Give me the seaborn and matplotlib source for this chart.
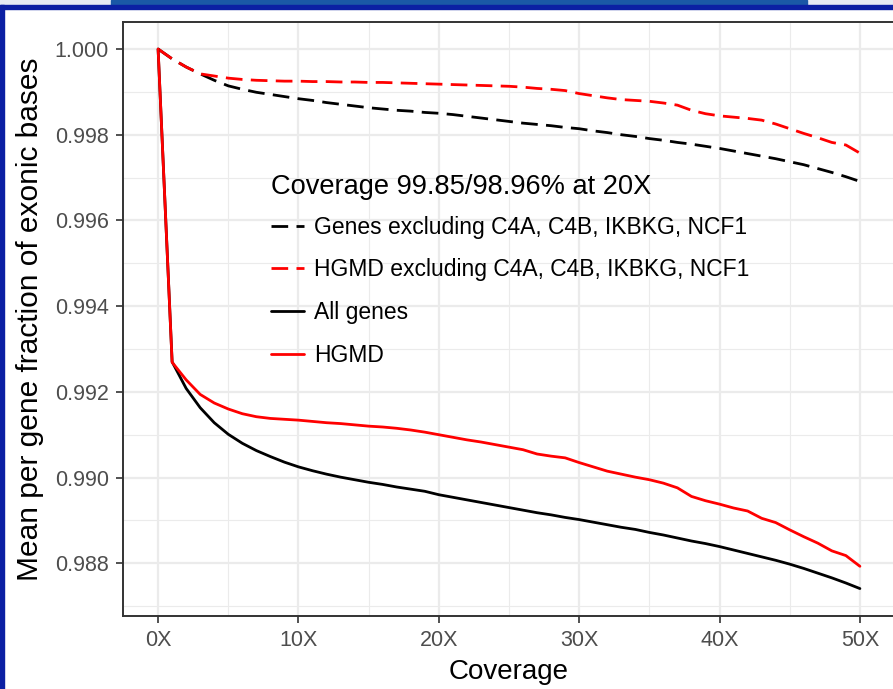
import numpy as np
import pandas as pd
import matplotlib
matplotlib.use("Agg")
import matplotlib.pyplot as plt
from matplotlib.patches import Rectangle
from matplotlib.ticker import MultipleLocator, FuncFormatter
import seaborn as sns

# coverage depth 0X..50X
coverage = list(range(0, 51))

genes_excl = [1.000, 0.99977, 0.99958, 0.99942, 0.99927, 0.99914, 0.99906, 0.99899, 0.99894, 0.99889,
              0.99884, 0.99880, 0.99875, 0.99871, 0.99867, 0.99863, 0.99860, 0.99857, 0.99855, 0.99852,
              0.99850, 0.99847, 0.99843, 0.99839, 0.99835, 0.99831, 0.99827, 0.99824, 0.99821, 0.99817,
              0.99814, 0.99809, 0.99805, 0.99800, 0.99796, 0.99791, 0.99787, 0.99782, 0.99778, 0.99773,
              0.99768, 0.99762, 0.99756, 0.99750, 0.99744, 0.99737, 0.99730, 0.99721, 0.99712, 0.99702,
              0.99691]

hgmd_excl = [1.000, 0.99977, 0.99958, 0.99942, 0.99937, 0.99932, 0.99929, 0.99927, 0.99926, 0.99925,
             0.99925, 0.99924, 0.99924, 0.99923, 0.99923, 0.99922, 0.99922, 0.99921, 0.99920, 0.99919,
             0.99918, 0.99917, 0.99916, 0.99915, 0.99914, 0.99913, 0.99911, 0.99908, 0.99906, 0.99903,
             0.99896, 0.99891, 0.99886, 0.99882, 0.99880, 0.99878, 0.99874, 0.99869, 0.99857, 0.99849,
             0.99844, 0.99841, 0.99838, 0.99834, 0.99825, 0.99814, 0.99803, 0.99793, 0.99782, 0.99776,
             0.99757]

all_genes = [1.000, 0.99270, 0.99208, 0.99163, 0.99128, 0.99101, 0.99080, 0.99063, 0.99049, 0.99036,
             0.99025, 0.99016, 0.99008, 0.99001, 0.98995, 0.98989, 0.98984, 0.98978, 0.98973, 0.98968,
             0.98960, 0.98954, 0.98948, 0.98942, 0.98936, 0.98930, 0.98924, 0.98918, 0.98913, 0.98907,
             0.98902, 0.98896, 0.98890, 0.98884, 0.98879, 0.98872, 0.98866, 0.98859, 0.98852, 0.98846,
             0.98839, 0.98831, 0.98823, 0.98815, 0.98807, 0.98798, 0.98788, 0.98777, 0.98766, 0.98754,
             0.98741]

hgmd = [1.000, 0.99269, 0.99228, 0.99194, 0.99174, 0.99160, 0.99149, 0.99142, 0.99138, 0.99136,
        0.99134, 0.99131, 0.99128, 0.99126, 0.99123, 0.99120, 0.99118, 0.99115, 0.99111, 0.99106,
        0.99100, 0.99094, 0.99088, 0.99083, 0.99077, 0.99071, 0.99065, 0.99055, 0.99050, 0.99046,
        0.99035, 0.99025, 0.99015, 0.99008, 0.99001, 0.98995, 0.98987, 0.98976, 0.98956, 0.98946,
        0.98938, 0.98929, 0.98922, 0.98905, 0.98895, 0.98878, 0.98862, 0.98847, 0.98829, 0.98818,
        0.98793]

series_names = ["Genes excluding C4A, C4B, IKBKG, NCF1",
                "HGMD excluding C4A, C4B, IKBKG, NCF1",
                "All genes",
                "HGMD"]
series_colors = ["black", "red", "black", "red"]
legend_title = "Coverage 99.85/98.96% at 20X"

# long format table for seaborn
df = pd.concat([
    pd.DataFrame({"coverage": coverage, "fraction": vals, "series": name})
    for name, vals in zip(series_names, [genes_excl, hgmd_excl, all_genes, hgmd])
])

sns.set_theme(style="whitegrid")
plt.rcParams["font.family"] = ["Liberation Sans", "DejaVu Sans"]

W, H = 893, 689
fig = plt.figure(figsize=(W / 100, H / 100), dpi=100)
ax = fig.add_axes([123 / W, 1 - 616 / H, (895 - 123) / W, (616 - 22) / H])

sns.lineplot(
    data=df, x="coverage", y="fraction",
    hue="series", style="series",
    hue_order=series_names, style_order=series_names,
    palette=dict(zip(series_names, series_colors)),
    dashes={series_names[0]: (6, 3), series_names[1]: (6, 3),
            series_names[2]: "", series_names[3]: ""},
    linewidth=2.0, ax=ax,
)

ax.set_xlim(-2.5, 52.5)
ax.set_ylim(0.98677, 1.00063)
ax.xaxis.set_major_locator(MultipleLocator(10))
ax.xaxis.set_minor_locator(MultipleLocator(5))
ax.yaxis.set_major_locator(MultipleLocator(0.002))
ax.yaxis.set_minor_locator(MultipleLocator(0.001))
ax.xaxis.set_major_formatter(FuncFormatter(lambda v, p: f"{int(round(v))}X"))
ax.yaxis.set_major_formatter(FuncFormatter(lambda v, p: f"{v:.3f}"))

ax.set_facecolor("white")
ax.grid(which="major", color="#ebebeb", linewidth=1.6)
ax.grid(which="minor", color="#ebebeb", linewidth=0.8)
ax.set_axisbelow(True)
for s in ax.spines.values():
    s.set_color("#333333")
    s.set_linewidth(1.4)

ax.tick_params(axis="both", which="major", length=5, width=1.2, color="#333333",
               labelsize=15.5, labelcolor="#4d4d4d", pad=5, bottom=True, left=True)
ax.tick_params(which="minor", length=0)

ax.set_xlabel("Coverage", fontsize=20, color="black", labelpad=6)
ax.set_ylabel("Mean per gene fraction of exonic bases", fontsize=21.5, color="black", labelpad=8)

leg = ax.legend(
    title=legend_title, loc="upper left",
    bbox_to_anchor=(260 / W, 1 - 163 / H), bbox_transform=fig.transFigure,
    frameon=False, fontsize=16.5, title_fontsize=19.6,
    handlelength=1.4, handletextpad=0.45, labelspacing=0.86, borderpad=0,
    alignment="left",
)
leg.get_title().set_color("black")
for t in leg.get_texts():
    t.set_color("black")
# tighter gap between title and entries
leg._legend_box.sep = 11

# blue screenshot frame around the figure
fig.patches.append(Rectangle((0, 1 - 5 / H), 1, 5 / H, transform=fig.transFigure,
                             color="#e6ebf4", zorder=10))
fig.patches.append(Rectangle((111 / W, 1 - 5 / H), (807 - 111) / W, 5 / H,
                             transform=fig.transFigure, color="#1a58a6", zorder=11))
fig.patches.append(Rectangle((0, 1 - 9 / H), 1, 4 / H, transform=fig.transFigure,
                             color="#0b1fa3", zorder=11))
fig.patches.append(Rectangle((0, 0), 4 / W, 1 - 5 / H, transform=fig.transFigure,
                             color="#0b1fa3", zorder=11))

fig.savefig("out.png", dpi=100, facecolor="white")
